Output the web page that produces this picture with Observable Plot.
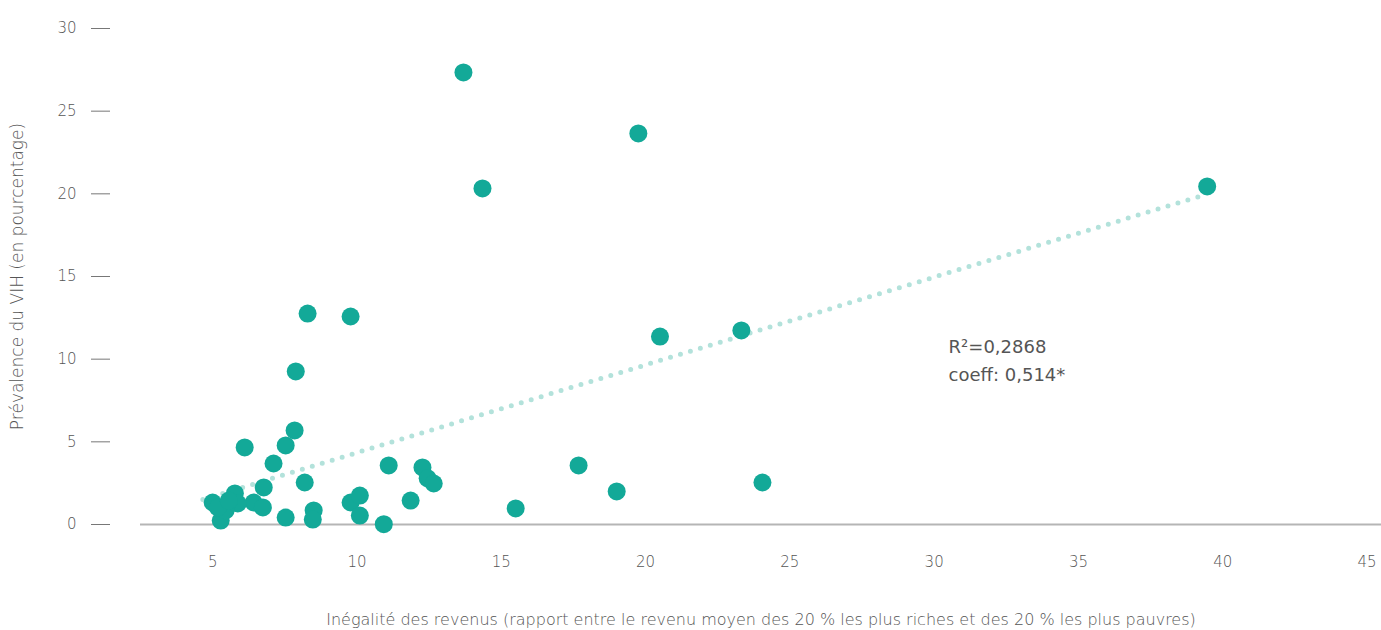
<!DOCTYPE html>
<html>
<head>
<meta charset="utf-8">
<script src="https://cdn.jsdelivr.net/npm/d3@7"></script>
<script src="https://cdn.jsdelivr.net/npm/@observablehq/plot@0.6"></script>
<style>
  html, body { margin: 0; padding: 0; background: #fff; }
  #chart svg { display: block; }
</style>
</head>
<body>
<div id="chart"></div>
<script>
// Income inequality (ratio richest 20% / poorest 20%)
const inequality = [
  13.69, 19.75, 14.35, 39.46, 8.29, 9.78, 20.5, 23.32, 7.88,
  6.11, 7.84, 7.53, 7.11, 11.1, 12.27, 12.45, 12.66, 17.68,
  6.77, 8.19, 11.86, 24.05, 19.0, 15.5,
  9.78, 10.1, 10.1, 10.93, 8.5, 8.47, 7.53,
  6.42, 6.74,
  5.0, 5.77, 5.87, 5.28, 5.45, 5.18, 5.56
];
// HIV prevalence (%)
const hivPrevalence = [
  27.34, 23.65, 20.33, 20.45, 12.76, 12.58, 11.37, 11.74, 9.26,
  4.66, 5.69, 4.78, 3.69, 3.57, 3.45, 2.79, 2.48, 3.57,
  2.24, 2.54, 1.45, 2.54, 2.0, 0.97,
  1.33, 1.75, 0.54, 0.02, 0.85, 0.3, 0.42,
  1.33, 1.03,
  1.33, 1.88, 1.27, 0.24, 0.85, 1.03, 1.45
];
// Trend line endpoints
const trendX = [4.66, 39.3];
const trendY = [1.51, 19.9];
// Annotation
const annotationText = ["R²=0,2868\ncoeff: 0,514*"];
const annotationX = [30.5];
const annotationY = [10.07];
const xTicks = [5, 10, 15, 20, 25, 30, 35, 40, 45];
const yTicks = [0, 5, 10, 15, 20, 25, 30];

const points = inequality.map((x, i) => ({x, y: hivPrevalence[i]}));
const trend = trendX.map((x, i) => ({x, y: trendY[i]}));
const annotation = annotationText.map((t, i) => ({t, x: annotationX[i], y: annotationY[i]}));

const chart = Plot.plot({
  width: 1381,
  height: 630,
  marginLeft: 140,
  marginRight: 0,
  marginTop: 28,
  marginBottom: 106,
  style: {fontFamily: "'DejaVu Sans', sans-serif", fontSize: "15px", fontWeight: 300, color: "#555", background: "#fff"},
  x: {domain: [2.5, 45.5]},
  y: {domain: [0, 30]},
  marks: [
    Plot.axisX({
      ticks: xTicks, tickSize: 0, tickPadding: 32, fill: "#555", fontSize: 15,
      label: null
    }),
    Plot.axisX({
      ticks: [], tickSize: 0, fill: "#555",
      label: "Inégalité des revenus (rapport entre le revenu moyen des 20 % les plus riches et des 20 % les plus pauvres)",
      labelAnchor: "center", labelArrow: "none", labelOffset: 100, fontSize: 16
    }),
    Plot.axisY({
      ticks: yTicks, tickSize: 19, tickPadding: 15, dx: -30, stroke: "#777", fill: "#555", fontSize: 15,
      label: null
    }),
    Plot.axisY({
      ticks: [], tickSize: 0,
      label: "Prévalence du VIH (en pourcentage)", labelAnchor: "center", labelArrow: "none", labelOffset: 130,
      fill: "#555", fontSize: 17
    }),
    Plot.ruleY([0], {stroke: "#b5b5b5", strokeWidth: 2}),
    Plot.line(trend, {x: "x", y: "y", stroke: "#b3e2db", strokeWidth: 5, strokeLinecap: "round", strokeDasharray: "0,10.4"}),
    Plot.dot(points, {x: "x", y: "y", r: 9, fill: "#13a998", stroke: "none"}),
    Plot.text(annotation, {x: "x", y: "y", text: "t", textAnchor: "start", fontSize: 18, fontWeight: 400, fill: "#555", lineHeight: 1.55})
  ]
});
document.getElementById("chart").appendChild(chart);
</script>
</body>
</html>
